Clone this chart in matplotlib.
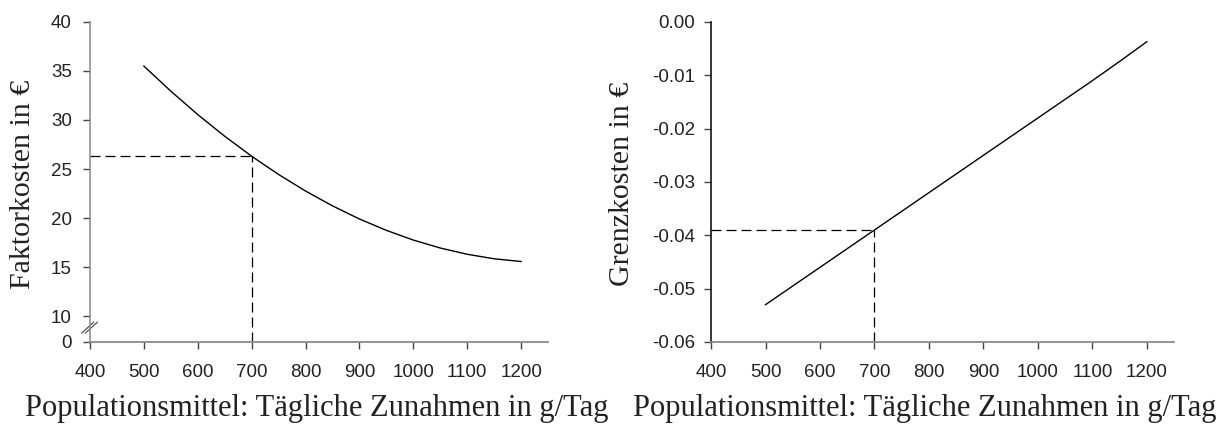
import numpy as np
import matplotlib.pyplot as plt

# daily gain (g/Tag) and cost values
zunahme = [500, 550, 600, 650, 700, 750, 800, 850, 900, 950, 1000, 1050, 1100, 1150, 1200]
faktorkosten = [35.5, 32.94, 30.55, 28.34, 26.3, 24.44, 22.75, 21.24, 19.9,
                18.74, 17.75, 16.94, 16.3, 15.84, 15.56]
grenzkosten = [-0.053, -0.0495, -0.046, -0.0425, -0.039, -0.0355, -0.032, -0.0285, -0.025,
               -0.0215, -0.018, -0.0145, -0.011, -0.0074, -0.0037]
marker_x = 700
marker_fk = 26.3
marker_gk = -0.039

x_ticks = [400, 500, 600, 700, 800, 900, 1000, 1100, 1200]
fk_ticks = [10, 15, 20, 25, 30, 35, 40]
gk_ticks = [-0.06, -0.05, -0.04, -0.03, -0.02, -0.01, 0.00]

# the bottom of the left axis is a broken axis: the "0" sits just below 10
fk_bottom = 7.35

tick_font = dict(family='Liberation Sans', size=13.5)
gray = '#8a8a8a'
xlabel_text = 'Populationsmittel: Tägliche Zunahmen in g/Tag'

fig = plt.figure(figsize=(12.23, 4.26), dpi=100)
ax1 = fig.add_axes([0.0736, 0.1972, 0.3745, 0.7512])
ax2 = fig.add_axes([0.5814, 0.1972, 0.3786, 0.7512])


def style_axes(ax, left_color, ypad, xlab_x):
    for s in ['top', 'right']:
        ax.spines[s].set_visible(False)
    ax.spines['bottom'].set_color(gray)
    ax.spines['left'].set_color(left_color)
    ax.spines['bottom'].set_linewidth(1.3)
    ax.spines['left'].set_linewidth(1.1)
    ax.tick_params(axis='x', direction='out', length=5, width=1, color='#444444', pad=11)
    ax.tick_params(axis='y', direction='out', length=5, width=1, color='#444444', pad=ypad)
    ax.set_xlim(400, 1250)
    ax.set_xticks(x_ticks)
    ax.set_xticklabels([str(v) for v in x_ticks], **tick_font, color='#222222')
    ax.set_xlabel(xlabel_text, family='Liberation Serif', size=22, color='#222222')
    ax.xaxis.set_label_coords(xlab_x, -0.231)
    ax.xaxis.label.set_va('baseline')


# left panel: Faktorkosten
style_axes(ax1, gray, 8, 0.496)
ax1.plot(zunahme, faktorkosten, color='black', lw=1.0)
ax1.plot([400, marker_x], [marker_fk, marker_fk], color='black', lw=0.9, ls=(0, (8, 4)))
ax1.plot([marker_x, marker_x], [fk_bottom, marker_fk], color='black', lw=0.9, ls=(0, (8, 4)))
ax1.set_ylim(fk_bottom, 40)
ax1.set_yticks([fk_bottom] + fk_ticks)
ax1.set_yticklabels(['0'] + [str(v) for v in fk_ticks], **tick_font, color='#222222')
ax1.set_ylabel('Faktorkosten in €', family='Liberation Serif', size=21.5, color='#222222')
ax1.yaxis.set_label_coords(-0.146, 0.494)
ax1.yaxis.label.set_va('center')

# break marks on the left spine
for dx in (-0.004, 0.004):
    ax1.plot([-0.014 + dx, 0.012 + dx], [0.028, 0.062], transform=ax1.transAxes,
             color='#444444', lw=0.8, clip_on=False)

# right panel: Grenzkosten
style_axes(ax2, 'black', 6.5, 0.462)
ax2.plot(zunahme, grenzkosten, color='black', lw=1.0)
ax2.plot([400, marker_x], [marker_gk, marker_gk], color='black', lw=0.9, ls=(0, (8, 4)))
ax2.plot([marker_x, marker_x], [-0.06, marker_gk], color='black', lw=0.9, ls=(0, (8, 4)))
ax2.set_ylim(-0.06, 0)
ax2.set_yticks(gk_ticks)
ax2.set_yticklabels(['%.2f' % v for v in gk_ticks], **tick_font, color='#222222')
ax2.set_ylabel('Grenzkosten in €', family='Liberation Serif', size=21.5, color='#222222')
ax2.yaxis.set_label_coords(-0.192, 0.494)
ax2.yaxis.label.set_va('center')

fig.savefig('out.png', dpi=100)
